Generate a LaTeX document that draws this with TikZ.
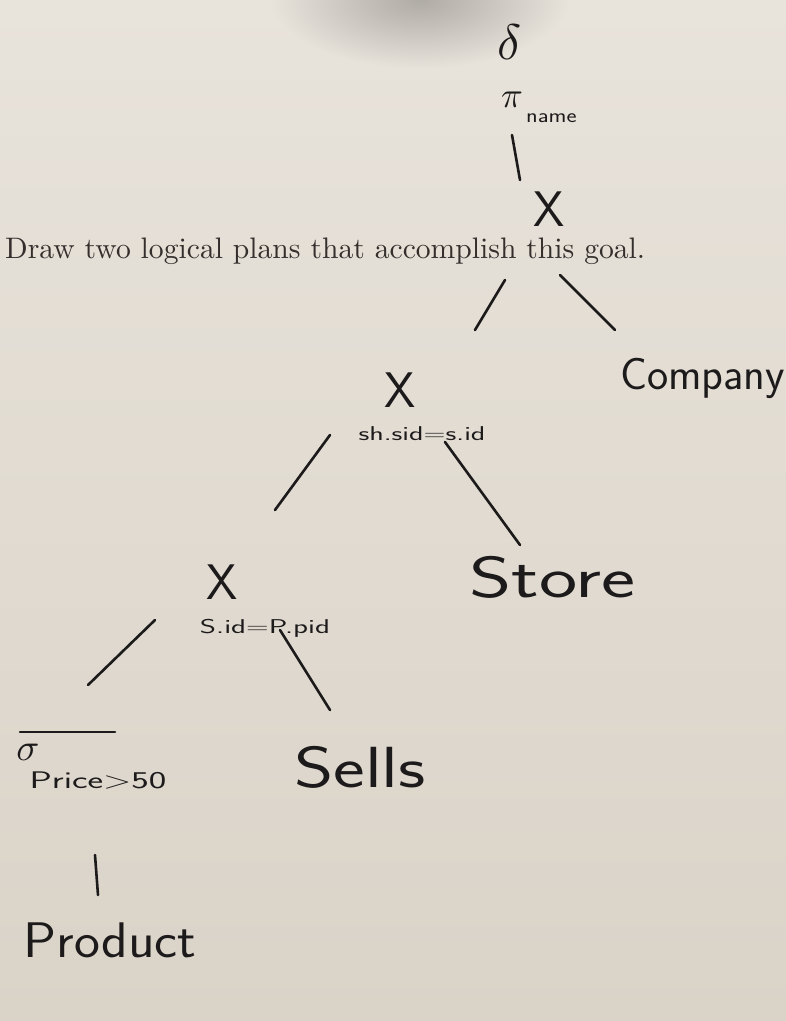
\documentclass[tikz,border=0pt]{standalone}
\usetikzlibrary{calc}
\definecolor{papertop}{RGB}{232,227,219}
\definecolor{paperbot}{RGB}{218,211,200}
\definecolor{shadow}{RGB}{175,171,165}
\definecolor{ink}{RGB}{28,26,26}
\definecolor{printink}{RGB}{52,47,44}
\begin{document}
\begin{tikzpicture}[x=1pt,y=-1pt,
  hand/.style={font=\sffamily, text=ink, inner sep=0pt},
  bigword/.style={hand, font=\sffamily\fontsize{58}{58}\selectfont},
  joinsym/.style={hand, font=\sffamily\fontsize{50}{50}\selectfont},
  cond/.style={hand, font=\sffamily\fontsize{20}{20}\selectfont},
  edge/.style={draw=ink, line width=2.6pt, line cap=round}]
\useasboundingbox (0,0) rectangle (786,1021);
\fill[top color=papertop, bottom color=paperbot] (0,0) rectangle (786,1021);
\begin{scope}
\clip (0,0) rectangle (786,1021);
\shade[inner color=shadow, outer color=papertop] (420,0) ellipse [x radius=150, y radius=70];
\end{scope}

\node[anchor=base west, inner sep=0pt, text=printink] (goal) at (5,258)
  {\resizebox{640pt}{!}{Draw two logical plans that accomplish this goal.}};

\node[hand] (dup) at (510,42) {\scalebox{5}{$\delta$}};
\node[hand] (pi) at (512,100) {\scalebox{3.6}{$\pi$}};
\node[hand, font=\sffamily\fontsize{20}{20}\selectfont, anchor=west] (pisub) at (526,118) {\scalebox{1.2}[1]{name}};

\node[joinsym] (j1) at (549,209) {X};
\node[bigword, font=\sffamily\fontsize{45}{45}\selectfont, anchor=west] (company) at (620,378) {Company};

\node[joinsym] (j2) at (400,390) {X};
\node[cond] (c2) at (422,434) {\scalebox{1.5}[1]{sh.sid=s.id}};
\node[bigword] (store) at (552,577) {\scalebox{1.4}[1]{Store}};

\node[joinsym] (j3) at (222,582) {X};
\node[cond] (c3) at (265,628) {\scalebox{1.55}[1]{S.id=P.pid}};
\node[bigword] (sells) at (360,767) {\scalebox{1.3}[1]{Sells}};

\node[hand] (sig) at (28,752) {\scalebox{3.8}{$\sigma$}};
\node[cond, font=\sffamily\fontsize{24}{24}\selectfont] (c4) at (98,780) {\scalebox{1.55}[1]{Price>50}};
\node[bigword, font=\sffamily\fontsize{50}{50}\selectfont] (product) at (110,940) {\scalebox{1.1}[1]{Product}};

\draw[edge] ($(sig)+(-8,-20)$) -- ($(c4)+(17,-48)$);
\draw[edge] ($(pi)+(0,35)$) -- ($(j1)+(-29,-29)$);
\draw[edge] ($(j1)+(-44,71)$) -- ($(j2)+(75,-60)$);
\draw[edge] ($(j1)+(11,66)$) -- ($(company.west)+(-5,-48)$);
\draw[edge] ($(j2)+(-70,45)$) -- ($(j3)+(53,-72)$);
\draw[edge] ($(j2)+(45,52)$) -- ($(store)+(-32,-32)$);
\draw[edge] ($(j3)+(-67,38)$) -- ($(sig)+(60,-67)$);
\draw[edge] ($(j3)+(58,48)$) -- ($(sells)+(-30,-57)$);
\draw[edge] ($(c4)+(-3,75)$) -- ($(product)+(-12,-45)$);
\end{tikzpicture}
\end{document}
